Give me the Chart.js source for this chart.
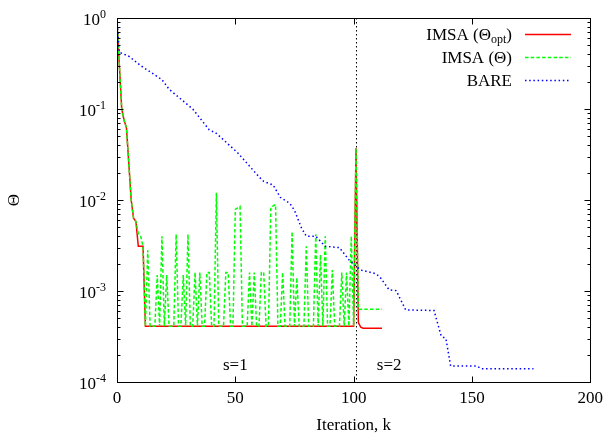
<!DOCTYPE html>
<html>
<head>
<meta charset="utf-8">
<script src="https://cdn.jsdelivr.net/npm/chart.js@4.4.1/dist/chart.umd.min.js"></script>
<style>html,body{margin:0;padding:0;background:#fff}canvas{display:block}</style>
</head>
<body>
<canvas id="c" width="609" height="440"></canvas>
<script>
const FONT = 'Liberation Serif';
const FS = 17;

// ---- tick labels / annotations ----
const xTicks = [0, 50, 100, 150, 200];
const yDecadeExps = [-4, -3, -2, -1, 0];
const stageSwitchK = 101;
const stageLabels = ['s=1', 's=2'];
const stageLabelK = [50, 115];
const stageLabelTheta = 1.5e-4;

// ---- series labels ----
const seriesLabels = ['IMSA (\u0398opt)', 'IMSA (\u0398)', 'BARE'];

// ---- IMSA (Theta_opt): line vertices (iteration, value) ----
const optK     = [0, 1, 2, 3, 4, 5, 6, 7, 8, 9, 10, 11, 12, 100, 101, 102, 103, 104, 112];
const optTheta = [0.9, 0.3, 0.1, 0.075, 0.062, 0.025, 0.01, 0.0063, 0.0058, 0.0031, 0.0031, 0.0031,
                  0.00041, 0.00041, 0.037, 0.00045, 0.0004, 0.00039, 0.00039];

// ---- IMSA (Theta): one value per iteration k = 0..112 ----
const imsaTheta = [
  0.9, 0.3, 0.1, 0.075, 0.062, 0.025, 0.01, 0.0063, 0.0058, 0.0043,      // 0-9
  0.004, 0.0031, 0.00041, 0.0028, 0.00041, 0.00041, 0.00041, 0.0015, 0.00041, 0.004, // 10-19
  0.00041, 0.0015, 0.00041, 0.00041, 0.00041, 0.0042, 0.00041, 0.00041, 0.0015, 0.00041, // 20-29
  0.0042, 0.00041, 0.00041, 0.0016, 0.00041, 0.0016, 0.00041, 0.00041, 0.0016, 0.0016, // 30-39
  0.00041, 0.00041, 0.012, 0.00041, 0.00041, 0.00041, 0.0016, 0.0016, 0.00041, 0.00041, // 40-49
  0.0079, 0.0082, 0.0085, 0.00041, 0.00041, 0.00041, 0.0016, 0.00041, 0.0016, 0.00041, // 50-59
  0.00041, 0.0016, 0.0016, 0.00041, 0.00041, 0.0083, 0.0086, 0.0089, 0.00041, 0.00041, // 60-69
  0.0016, 0.00041, 0.00041, 0.00041, 0.0045, 0.00041, 0.0014, 0.00041, 0.00041, 0.00041, // 70-79
  0.0031, 0.00041, 0.00041, 0.00041, 0.0042, 0.00041, 0.0025, 0.00041, 0.004, 0.00041, // 80-89
  0.00041, 0.0017, 0.00041, 0.00041, 0.00041, 0.0016, 0.00041, 0.0016, 0.00041, 0.004, // 90-99
  0.00041, 0.037, 0.00063, 0.00063, 0.00063, 0.00063, 0.00063, 0.00063, 0.00063, 0.00063, // 100-109
  0.00063, 0.00063, 0.00063                                                   // 110-112
];

// ---- BARE: line vertices (iteration, value) ----
const bareK     = [0, 1, 5, 10, 19, 22, 32, 39, 42, 51, 60, 62, 66, 69, 73, 75, 78, 80, 84, 88,
                   94, 98, 103, 109, 111, 115, 118, 122, 134, 137, 139, 141, 152, 154, 176];
const bareTheta = [0.95, 0.42, 0.38, 0.30, 0.21, 0.165, 0.1, 0.059, 0.054, 0.033, 0.018, 0.016,
                   0.0146, 0.0107, 0.0092, 0.0077, 0.0049, 0.0040, 0.0040, 0.0031, 0.0030, 0.0022,
                   0.0017, 0.00156, 0.00144, 0.00103, 0.00101, 0.00062, 0.00061, 0.00032, 0.00030,
                   0.00015, 0.00015, 0.00014, 0.00014];

const toPts = (ks, vs) => ks.map((k, i) => ({x: k, y: vs[i]}));

const decor = {
  id: 'decor',
  beforeDatasetsDraw(chart) {
    const {ctx, chartArea: a, scales: {x}} = chart;
    ctx.save();
    ctx.strokeStyle = '#000';
    ctx.lineWidth = 1;
    ctx.setLineDash([1.5, 2.5]);
    const px = Math.round(x.getPixelForValue(stageSwitchK)) + 0.5;
    ctx.beginPath(); ctx.moveTo(px, a.top); ctx.lineTo(px, a.bottom); ctx.stroke();
    ctx.restore();
  },
  afterDraw(chart) {
    const {ctx, chartArea: a, scales: {x, y}} = chart;
    ctx.save();
    ctx.strokeStyle = '#000';
    ctx.lineWidth = 1;
    ctx.setLineDash([]);
    const L = Math.round(a.left) + 0.5, R = Math.round(a.right) + 0.5;
    const T = Math.round(a.top) + 0.5, B = Math.round(a.bottom) + 0.5;
    ctx.strokeRect(L, T, R - L, B - T);
    // x ticks (inward, mirrored)
    ctx.beginPath();
    xTicks.forEach(v => {
      const px = Math.round(x.getPixelForValue(v)) + 0.5;
      ctx.moveTo(px, B); ctx.lineTo(px, B - 6);
      ctx.moveTo(px, T); ctx.lineTo(px, T + 6);
    });
    // y ticks
    yDecadeExps.forEach(e => {
      const py = Math.round(y.getPixelForValue(Math.pow(10, e))) + 0.5;
      ctx.moveTo(L, py); ctx.lineTo(L + 6, py);
      ctx.moveTo(R, py); ctx.lineTo(R - 6, py);
      if (e < 0) {
        for (let m = 2; m <= 9; m++) {
          const pm = Math.round(y.getPixelForValue(m * Math.pow(10, e))) + 0.5;
          ctx.moveTo(L, pm); ctx.lineTo(L + 3, pm);
          ctx.moveTo(R, pm); ctx.lineTo(R - 3, pm);
        }
      }
    });
    ctx.stroke();
    // y tick labels 10^e
    ctx.fillStyle = '#000';
    ctx.textBaseline = 'alphabetic';
    yDecadeExps.forEach(e => {
      const py = y.getPixelForValue(Math.pow(10, e));
      const expStr = e === 0 ? '0' : '-' + Math.abs(e);
      ctx.font = '12px ' + FONT;
      const ew = ctx.measureText(expStr).width;
      const right = a.left - 11;
      ctx.textAlign = 'left';
      ctx.fillText(expStr, right - ew, py + 0);
      ctx.font = FS + 'px ' + FONT;
      ctx.textAlign = 'right';
      ctx.fillText('10', right - ew, py + 7);
    });
    // stage labels
    ctx.font = FS + 'px ' + FONT;
    ctx.textAlign = 'center';
    ctx.textBaseline = 'middle';
    stageLabels.forEach((s, i) => {
      ctx.fillText(s, x.getPixelForValue(stageLabelK[i]), y.getPixelForValue(stageLabelTheta));
    });
    // legend (gnuplot style: right-aligned text, then sample line)
    const rows = [34.5, 57.5, 80.5];
    const textRight = 512, lineX0 = 525, lineX1 = 571;
    chart.data.datasets.forEach((ds, i) => {
      const ry = rows[i];
      let parts;
      if (i === 0) parts = [{t: 'IMSA (\u0398', s: FS, dy: 0}, {t: 'opt', s: 12, dy: 3}, {t: ')', s: FS, dy: 0}];
      else parts = [{t: ds.label, s: FS, dy: 0}];
      let total = 0;
      parts.forEach(p => { ctx.font = p.s + 'px ' + FONT; p.w = ctx.measureText(p.t).width; total += p.w; });
      let cx = textRight - total;
      ctx.textAlign = 'left';
      ctx.textBaseline = 'alphabetic';
      parts.forEach(p => { ctx.font = p.s + 'px ' + FONT; ctx.fillText(p.t, cx, ry + 5.5 + p.dy); cx += p.w; });
      ctx.strokeStyle = ds.borderColor;
      ctx.lineWidth = ds.borderWidth;
      ctx.setLineDash(ds.borderDash || []);
      ctx.beginPath(); ctx.moveTo(lineX0, ry); ctx.lineTo(lineX1, ry); ctx.stroke();
    });
    ctx.restore();
  }
};

new Chart(document.getElementById('c'), {
  type: 'scatter',
  data: {
    datasets: [
      {label: seriesLabels[0], data: toPts(optK, optTheta), showLine: true, borderColor: '#ff0000',
       borderWidth: 1.5, pointRadius: 0, order: 3},
      {label: seriesLabels[1], data: imsaTheta.map((v, k) => ({x: k, y: v})), showLine: true, borderColor: '#00ff00',
       borderWidth: 1.5, borderDash: [3.5, 2.2], pointRadius: 0, order: 2},
      {label: seriesLabels[2], data: toPts(bareK, bareTheta), showLine: true, borderColor: '#0000ff',
       borderWidth: 1.5, borderDash: [1.5, 2.7], pointRadius: 0, order: 1}
    ]
  },
  options: {
    responsive: false,
    animation: false,
    devicePixelRatio: 1,
    layout: {padding: {left: 0, right: 17, top: 18, bottom: 0}},
    plugins: {legend: {display: false}, tooltip: {enabled: false}},
    elements: {line: {tension: 0}},
    scales: {
      x: {
        type: 'linear', min: 0, max: 200,
        grid: {display: false, drawTicks: false},
        border: {display: false},
        ticks: {stepSize: 50, maxRotation: 0, autoSkip: false, padding: 6, color: '#000',
                font: {family: FONT, size: FS}},
        title: {display: true, text: 'Iteration, k', color: '#000', font: {family: FONT, size: FS},
                padding: {top: 0, bottom: 4}},
        afterFit(s) { s.height = 58; }
      },
      y: {
        type: 'logarithmic', min: 1e-4, max: 1,
        grid: {display: false, drawTicks: false},
        border: {display: false},
        ticks: {display: false},
        title: {display: true, text: '\u0398', color: '#000', font: {family: FONT, size: FS},
                padding: {top: 4, bottom: 0}},
        afterFit(s) { s.width = 117; }
      }
    }
  },
  plugins: [decor]
});
</script>
</body>
</html>
